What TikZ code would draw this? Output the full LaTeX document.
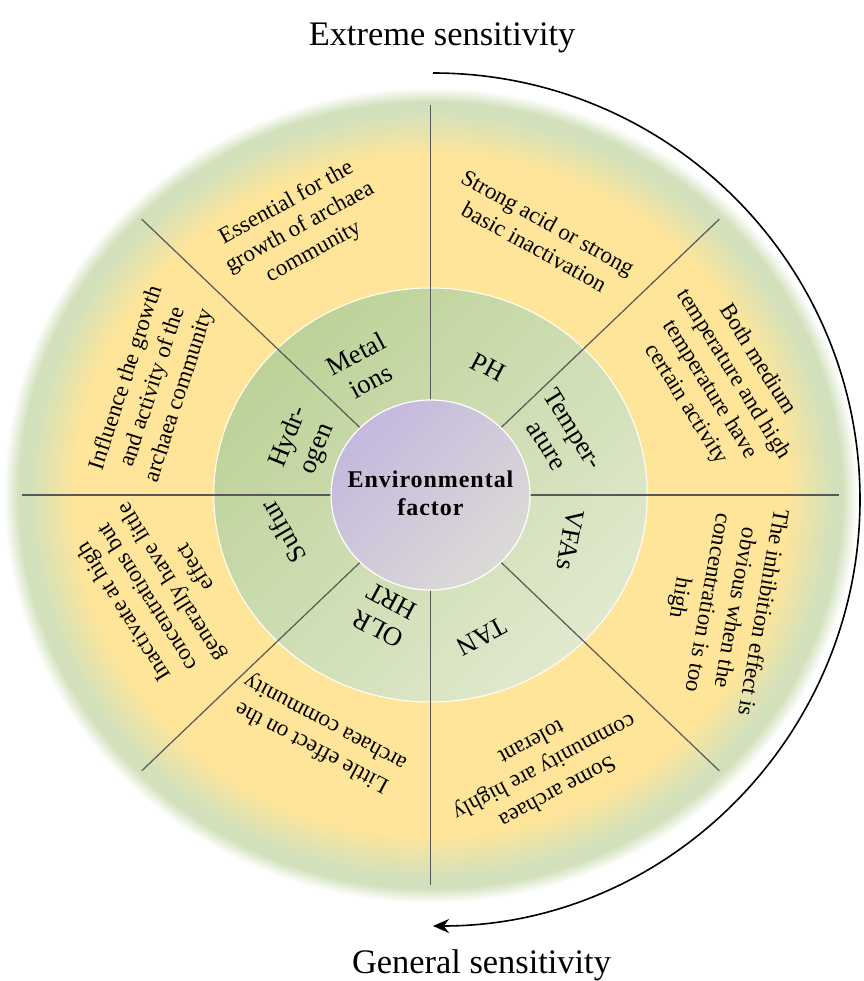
\documentclass[tikz,border=0pt]{standalone}
\usepackage{fontspec}
\setmainfont{Liberation Serif}
\newfontfamily\centrefont[LetterSpace=4]{Liberation Serif}
\usetikzlibrary{arrows.meta}

\definecolor{ringyellow}{RGB}{255,229,153}
\definecolor{ringgreen}{RGB}{210,225,188}
\definecolor{midgreen}{RGB}{188,210,152}
\definecolor{midlight}{RGB}{224,233,206}
\definecolor{purpdark}{RGB}{196,184,222}
\definecolor{purplight}{RGB}{220,218,214}
\definecolor{sectorgray}{RGB}{88,88,88}

\pgfdeclareradialshading{outerring}{\pgfpoint{0bp}{0bp}}{color(0bp)=(ringyellow); color(20.8bp)=(ringyellow); color(23.5bp)=(ringgreen); color(24.1bp)=(ringgreen); color(25bp)=(white); color(50bp)=(white)}

\tikzset{
	effect/.style={align=center, font=\fontsize{11.5}{14}\selectfont, inner sep=0pt},
	factor/.style={align=center, font=\fontsize{13.3}{15.5}\selectfont, inner sep=0pt},
	title/.style={font=\fontsize{17.2}{20}\selectfont, anchor=base},
	sector/.style={draw=sectorgray, line width=0.6pt}
}

\begin{document}
\begin{tikzpicture}[x=0.5235pt,y=0.5pt]
	\useasboundingbox (-411.2,-486) rectangle (413.1,495);
	\coordinate (c) at (0,0);
	
	\shade[shading=outerring] (c) circle[radius=408];
	\shadedraw[top color=midgreen, bottom color=midlight, shading angle=45, draw=white, line width=0.5pt] (c) circle[radius=207];
	\foreach \a in {0,45,...,315}{
		\draw[sector] (c) -- (\a:390);
	}
	\shadedraw[top color=purpdark, bottom color=purplight, shading angle=45, draw=white, line width=0.6pt] (c) circle[radius=95];
	\node[align=center, font=\centrefont\bfseries\fontsize{12}{14}\selectfont, inner sep=0pt] (core) at (0,2) {Environmental\\factor};
	
	\foreach \ang/\rad/\rot/\txt [count=\i] in {
		116.7/143/28/{Metal\\ions},
		66.7/139/-28/{PH},
		25.1/137/-58/{Temper-\\ature},
		-18.7/141/-100/{VFAs},
		-70.9/150/-152/{TAN},
		-110/128/152/{OLR\\HRT},
		-165.3/146/120/{Sulfur},
		156.9/132/68/{Hydr-\\ogen}}{
		\node[factor, rotate=\rot] (factor\i) at (\ang:\rad) {\txt};
	}
	
	\foreach \ang/\rad/\rot/\txt [count=\i] in {
		115/295/29/{Essential for the\\growth of archaea\\community},
		67.9/281/-29/{Strong acid or strong\\basic inactivation},
		22.1/300/-58/{Both medium\\temperature and high\\temperature have\\certain activity},
		-21.7/298/-100/{The inhibition effect is\\obvious when the\\concentration is too\\high},
		-68.2/294/-152/{Some archaea\\community are highly\\tolerant},
		-114/262/152/{Little effect on the\\archaea community},
		-159.9/277/122/{Inactivate at high\\concentrations but\\generally have little\\effect},
		157.8/286/72/{Influence the growth\\and activity of the\\archaea community}}{
		\node[effect, rotate=\rot] (effect\i) at (\ang:\rad) {\txt};
	}
	
	\node[title] (extreme) at (11,449) {Extreme sensitivity};
	\node[title] (general) at (48.7,-478) {General sensitivity};
	\coordinate (arcstart) at (2.4,422);
	\draw[line width=0.8pt, -{Stealth[length=8pt,width=7pt]}] (arcstart) arc[start angle=90, end angle=-90, x radius=407.8, y radius=426.5] coordinate (arcend);
\end{tikzpicture}
\end{document}
